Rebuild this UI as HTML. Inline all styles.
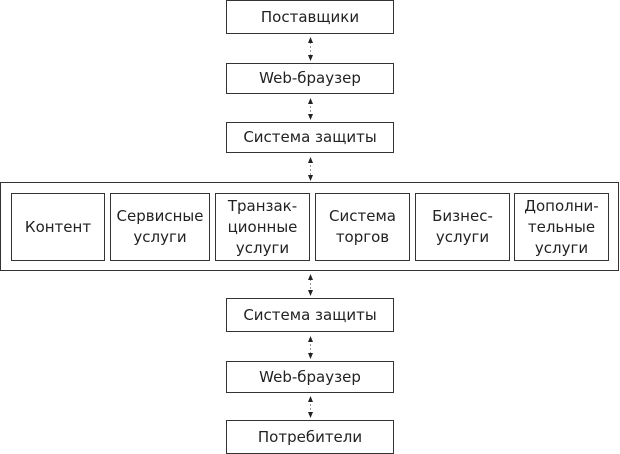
<!DOCTYPE html>
<html><head><meta charset="utf-8"><style>
body{margin:0;width:620px;height:454px;background:#fff;position:relative;font-family:"DejaVu Sans","Liberation Sans",sans-serif;color:#222;overflow:hidden}
.b{position:absolute;box-sizing:border-box;border:1px solid #333;background:#fff;display:flex;align-items:center;justify-content:center;text-align:center;font-size:15px;line-height:21px}
svg{position:absolute;left:0;top:0}
</style></head><body>
<div class="b" style="left:226px;top:0;width:168px;height:34px">Поставщики</div>
<div class="b" style="left:226px;top:63px;width:168px;height:31px">Web-браузер</div>
<div class="b" style="left:226px;top:122px;width:168px;height:31px">Система защиты</div>
<div class="b" style="left:0;top:182px;width:619px;height:89px;border-width:1px"></div>
<div class="b" style="left:11px;top:193px;width:94px;height:68px">Контент</div>
<div class="b" style="left:110px;top:193px;width:100px;height:68px">Сервисные<br>услуги</div>
<div class="b" style="left:215px;top:193px;width:95px;height:68px">Транзак-<br>ционные<br>услуги</div>
<div class="b" style="left:315px;top:193px;width:95px;height:68px">Система<br>торгов</div>
<div class="b" style="left:415px;top:193px;width:95px;height:68px">Бизнес-<br>услуги</div>
<div class="b" style="left:514px;top:193px;width:95px;height:68px">Дополни-<br>тельные<br>услуги</div>
<div class="b" style="left:226px;top:298px;width:168px;height:34px">Система защиты</div>
<div class="b" style="left:226px;top:361px;width:168px;height:32px">Web-браузер</div>
<div class="b" style="left:226px;top:420px;width:168px;height:34px">Потребители</div>
<svg width="620" height="454">
<g stroke="#999" stroke-width="1" stroke-dasharray="2,2">
<line x1="310.5" y1="42" x2="310.5" y2="56"/>
<line x1="310.5" y1="102" x2="310.5" y2="116"/>
<line x1="310.5" y1="161" x2="310.5" y2="176"/>
<line x1="310.5" y1="279" x2="310.5" y2="292"/>
<line x1="310.5" y1="340" x2="310.5" y2="355"/>
<line x1="310.5" y1="400" x2="310.5" y2="414"/>
</g>
<g fill="#222">
<path d="M310.5 37l-2.5 6h5z"/><path d="M310.5 61l-2.5-6h5z"/>
<path d="M310.5 98l-2.5 6h5z"/><path d="M310.5 120l-2.5-6h5z"/>
<path d="M310.5 157l-2.5 6h5z"/><path d="M310.5 181l-2.5-6h5z"/>
<path d="M310.5 274l-2.5 6h5z"/><path d="M310.5 296l-2.5-6h5z"/>
<path d="M310.5 336l-2.5 6h5z"/><path d="M310.5 359l-2.5-6h5z"/>
<path d="M310.5 396l-2.5 6h5z"/><path d="M310.5 418l-2.5-6h5z"/>
</g>
</svg>
</body></html>
